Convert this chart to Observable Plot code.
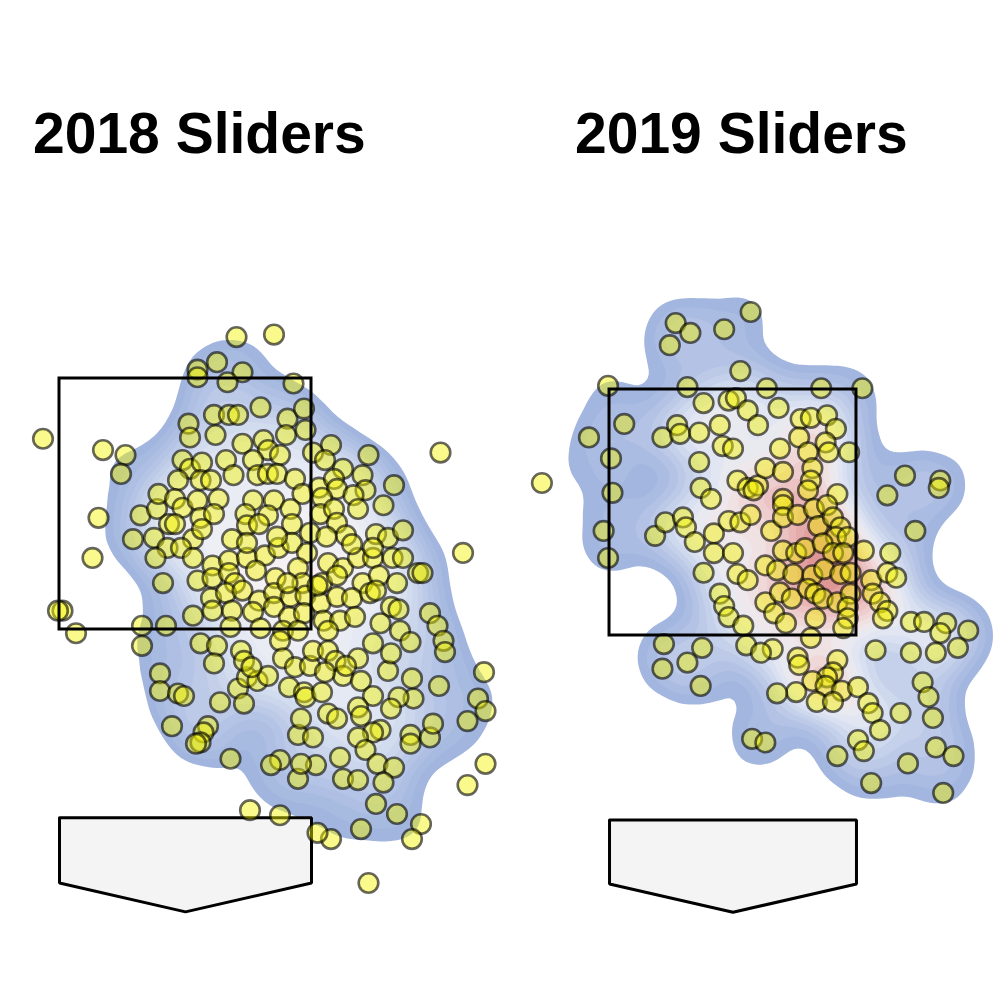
<!DOCTYPE html>
<html>
<head>
<meta charset="utf-8">
<script src="https://cdn.jsdelivr.net/npm/d3@7"></script>
<script src="https://cdn.jsdelivr.net/npm/@observablehq/plot@0.6"></script>
<style>
  body { margin: 0; background: #fff; }
  #wrap { position: relative; width: 1000px; height: 1000px; overflow: hidden;
          font-family: "Liberation Sans", Arial, Helvetica, sans-serif; background: #fff; }
  .title { position: absolute; top: 105px; margin: 0; font-weight: bold; font-size: 57px;
           line-height: 57px; white-space: nowrap; color: #000; }
  .panel { position: absolute; top: 200px; }
</style>
</head>
<body>
<div id="wrap">
  <h2 class="title" style="left:33px">2018 Sliders</h2>
  <h2 class="title" style="left:575px">2019 Sliders</h2>
  <div class="panel" id="p2018" style="left:0px"></div>
  <div class="panel" id="p2019" style="left:500px"></div>
</div>
<script>
// ---------- data: pitch locations (feet; x = horizontal, z = height) ----------
const x2018 = [
 0.34,0.59,0.21,0.08,0.08,0.38,0.28,0.72,
 -0.95,-0.55,-0.40,-0.43,-0.58,-0.30,-0.19,-0.11,-0.18,-0.35,-0.21,-0.12,-0.62,-0.20,-0.15,-0.82,-0.85,-0.73,-0.29,-0.13,-0.29,-0.17,-0.17,-0.05,-0.09,
 0.02,0.03,0.19,0.29,0.35,0.50,0.68,0.79,0.20,0.38,0.52,0.67,0.80,0.97,1.22,0.55,
 -0.02,0.03,0.11,0.27,0.45,0.63,0.85,0.93,1.05,1.18,1.39,
 -0.05,0.10,0.17,0.32,0.48,0.55,0.61,0.73,0.89,0.99,1.01,1.20,
 -0.07,-0.02,0.08,0.22,0.45,0.59,0.78,0.91,1.12,1.15,1.32,
 0.10,0.19,0.40,0.55,0.70,0.90,0.99,1.01,
 -0.07,0.05,0.11,0.31,0.41,0.49,0.71,0.83,1.07,1.27,1.35,1.45,
 -0.03,0.05,0.18,0.29,0.41,0.53,0.62,0.71,0.81,0.95,1.05,1.15,1.25,1.38,1.45,1.55,
 0.08,0.18,0.29,0.33,0.47,0.60,0.75,0.78,0.91,1.01,1.18,1.29,1.41,
 0.17,0.27,0.38,0.49,0.59,0.70,0.80,0.90,1.01,1.11,1.23,1.37,
 0.05,0.18,0.31,0.45,0.59,0.69,0.79,0.92,1.03,1.13,1.30,1.43,
 0.30,0.50,0.65,0.75,0.95,
 1.70,1.85,1.58,1.63,1.68,1.72,1.73,1.99,1.95,2.00,1.88,2.00,1.88,
 0.10,0.21,0.19,0.37,0.23,0.35,0.39,0.41,0.48,0.15,0.12,0.10,0.07,0.30,0.43,
 0.39,0.55,0.63,0.65,0.69,0.73,0.79,0.80,0.83,0.85,0.91,0.95,1.00,1.05,1.15,1.17,1.25,1.15,1.17,
 1.25,1.35,1.37,1.50,1.51,1.52,1.42,1.37,1.30,1.25,1.15,1.20,1.50,1.50,1.63,1.65,1.69,
 1.03,0.87,0.75,0.85,0.77,0.95,1.01,0.63,0.57,0.75,1.05,1.15,1.28,1.39,1.32,
 -0.01,0.77,1.27,1.41,1.57,1.51,1.17,0.97,0.88,0.63,1.22,
 0.41,0.61,0.94,1.11,1.25,0.68,0.88,1.27,1.42,0.44,0.93,1.07
];
const z2018 = [
 3.83,3.85,3.63,3.57,3.51,3.55,3.47,3.46,
 3.02,2.93,2.89,2.74,2.39,2.41,2.46,2.34,2.58,2.22,2.23,2.15,2.07,2.07,1.87,1.65,1.65,1.47,1.53,1.53,1.37,1.15,1.01,0.99,0.73,
 3.14,3.03,3.21,3.21,3.21,3.27,3.18,3.26,3.05,2.98,3.01,3.05,3.09,2.97,2.89,2.93,
 2.85,2.78,2.83,2.85,2.85,2.89,2.91,2.85,2.78,2.73,2.65,
 2.69,2.69,2.69,2.73,2.73,2.74,2.74,2.70,2.63,2.70,2.62,2.61,
 2.54,2.47,2.53,2.54,2.53,2.53,2.58,2.55,2.57,2.46,2.49,
 2.39,2.42,2.42,2.41,2.46,2.42,2.46,2.35,
 2.34,2.22,2.30,2.22,2.33,2.34,2.34,2.27,2.25,2.26,2.23,2.29,
 2.15,2.07,2.01,2.05,2.07,2.09,2.15,2.19,2.11,2.03,1.99,2.07,2.07,2.07,2.07,1.95,
 1.89,1.91,1.95,1.87,1.97,1.91,1.99,1.87,1.87,1.93,1.87,1.93,1.87,
 1.75,1.79,1.81,1.73,1.79,1.76,1.77,1.71,1.76,1.75,1.79,1.68,
 1.61,1.65,1.65,1.64,1.68,1.60,1.63,1.57,1.57,1.60,1.55,1.49,
 1.52,1.51,1.49,1.49,1.49,
 2.91,2.11,1.95,1.63,1.53,1.41,1.32,1.16,0.95,0.85,0.77,0.43,0.26,
 1.39,1.37,1.23,1.33,0.92,1.03,0.91,1.12,1.09,0.73,0.68,0.60,0.59,0.47,0.06,
 1.25,1.13,1.41,1.27,1.04,1.20,1.00,0.96,1.21,1.33,1.00,1.33,1.25,1.13,1.27,1.09,0.97,0.88,0.81,
 1.39,1.17,1.31,1.40,1.11,0.95,0.96,0.87,0.70,0.68,0.64,0.54,0.66,0.59,0.64,0.75,1.05,
 0.48,0.42,0.66,0.64,0.79,0.83,0.79,0.46,0.42,0.31,0.31,0.30,0.43,0.40,0.28,
 0.97,0.43,0.11,0.03,-0.05,-0.17,-0.09,-0.17,-0.12,0.02,-0.52,
 2.19,2.24,2.24,2.18,2.15,1.87,1.85,1.81,1.66,1.20,1.16,1.21
];
const x2019 = [
 -0.39,-0.29,-0.43,-0.06,0.12,0.05,-0.85,-0.74,-0.98,-0.83,-1.30,-0.82,-0.88,-0.85,1.17,1.41,1.40,1.24,
 -0.31,0.23,0.60,0.88,-0.20,-0.03,0.02,0.10,0.31,0.46,0.53,0.64,0.70,
 -0.48,-0.38,-0.36,-0.23,-0.09,0.17,-0.07,0.00,0.32,0.45,0.51,0.63,0.65,0.79,
 -0.23,0.03,0.10,0.17,0.22,0.34,0.14,0.54,0.53,-0.22,-0.15,0.34,0.34,0.51,0.71,1.05,
 -0.53,-0.46,-0.34,-0.32,-0.26,-0.13,-0.03,0.05,0.12,0.26,0.34,0.44,0.55,0.58,0.64,0.68,0.73,0.70,0.78,
 -0.13,0.00,0.34,0.43,0.49,0.61,0.68,0.75,0.89,1.07,
 -0.20,0.03,0.10,0.22,0.30,0.41,0.54,0.62,0.73,0.80,0.94,1.05,1.11,
 -0.09,-0.06,0.22,0.32,0.40,0.51,0.56,0.61,0.71,0.80,0.78,0.95,1.00,1.05,
 -0.03,0.07,0.28,0.36,0.56,0.78,0.75,1.02,
 -0.47,-0.21,-0.31,-0.48,-0.22,0.09,1.21,1.30,1.45,1.41,1.60,1.53,1.38,1.21,0.97,1.29,1.33,1.36,1.14,
 0.71,0.68,0.64,0.54,0.63,0.74,0.85,0.43,0.30,0.57,0.68,0.92,0.95,1.00,0.85,0.89,0.71,0.13,0.22,
 1.19,1.38,1.50,0.94,1.43,0.44,0.45,0.27,0.19,0.53
];
const z2019 = [
 4.04,3.96,3.86,3.99,4.13,3.65,3.53,3.22,3.11,2.94,2.74,2.66,2.35,2.13,2.80,2.76,2.70,2.35,
 3.52,3.51,3.51,3.51,3.39,3.41,3.43,3.33,3.35,3.26,3.27,3.29,3.18,
 3.11,3.21,3.14,3.15,3.21,3.21,3.04,3.02,3.02,3.11,2.99,3.07,2.99,2.99,
 2.91,2.76,2.70,2.72,2.86,2.83,2.68,2.86,2.76,2.70,2.61,2.61,2.56,2.68,2.65,2.64,
 2.31,2.42,2.46,2.38,2.26,2.33,2.43,2.42,2.48,2.35,2.46,2.48,2.53,2.39,2.56,2.46,2.38,2.30,2.30,
 2.17,2.17,2.19,2.17,2.21,2.25,2.17,2.17,2.19,2.17,
 2.01,2.00,1.95,2.07,2.03,2.00,1.99,2.04,2.00,2.01,1.95,2.01,1.97,
 1.84,1.74,1.77,1.85,1.80,1.88,1.84,1.80,1.77,1.84,1.73,1.84,1.77,1.70,
 1.65,1.58,1.68,1.60,1.64,1.64,1.56,1.64,
 1.43,1.40,1.28,1.23,1.09,1.42,1.61,1.61,1.60,1.52,1.54,1.40,1.36,1.36,1.38,1.12,1.00,0.83,0.87,
 1.30,1.20,1.16,1.13,1.09,1.05,1.08,1.04,1.03,0.96,0.96,0.95,0.87,0.73,0.65,0.56,0.52,0.66,0.63,
 0.46,0.59,0.52,0.30,0.22,1.32,1.26,1.39,1.36,1.48
];
// strike zone and home plate outlines (feet)
const zoneX = [-0.84, 0.84];
const zoneZ = [1.5, 3.5];
const plateX = [-0.84, 0.84, 0.84, 0, -0.84, -0.84];
const plateZ = [0, 0, -0.52, -0.75, -0.52, 0];

// ---------- drawing ----------
function interp(colors, cut) {
  const base = d3.interpolateRgbBasis(colors);
  return t => (t < cut ? "transparent" : base((t - cut) / (1 - cut)));
}

function panel(xs, zs, o) {
  const W = 500, H = 760;
  const pts = xs.map((x, i) => ({x, z: zs[i]}));
  const plate = plateX.map((x, i) => ({x, z: plateZ[i]}));
  const zone = [{x1: zoneX[0], x2: zoneX[1], y1: zoneZ[0], y2: zoneZ[1]}];
  return Plot.plot({
    width: W, height: H, margin: 0,
    style: {background: "transparent", overflow: "visible"},
    x: {domain: [-o.cx / o.kx, (W - o.cx) / o.kx], axis: null},
    y: {domain: [3.5 - (H - o.top) / o.ky, 3.5 + o.top / o.ky], axis: null},
    color: {type: "linear", interpolate: interp(o.colors, o.cut), legend: false},
    marks: [
      Plot.density(pts, {x: "x", y: "z", fill: "density", bandwidth: o.bw, thresholds: o.th}),
      Plot.line(plate, {x: "x", y: "z", fill: "#f4f4f4", stroke: "black", strokeWidth: 3, strokeLinejoin: "miter"}),
      Plot.dot(pts, {x: "x", y: "z", r: 9.8, fill: "#f5f500", fillOpacity: 0.45,
                     stroke: "black", strokeOpacity: 0.6, strokeWidth: 2.6}),
      Plot.rect(zone, {x1: "x1", x2: "x2", y1: "y1", y2: "y2", fill: "none", stroke: "black", strokeWidth: 3})
    ]
  });
}

document.getElementById("p2018").append(panel(x2018, z2018, {
  cx: 185, top: 178, kx: 150, ky: 125.5, bw: 25, th: 20, cut: 0.17,
  colors: ["#9db1dc", "#afc0e4", "#c8d4ec", "#dfe5f2", "#eef0f6", "#f7f1f3"]
}));
document.getElementById("p2019").append(panel(x2019, z2019, {
  cx: 232.5, top: 189, kx: 147, ky: 123, bw: 22, th: 20, cut: 0.06,
  colors: ["#9db1dc", "#b3c2e5", "#d0daef", "#eef0f6", "#f2dada", "#e9b5b5", "#de9696"]
}));
</script>
</body>
</html>
